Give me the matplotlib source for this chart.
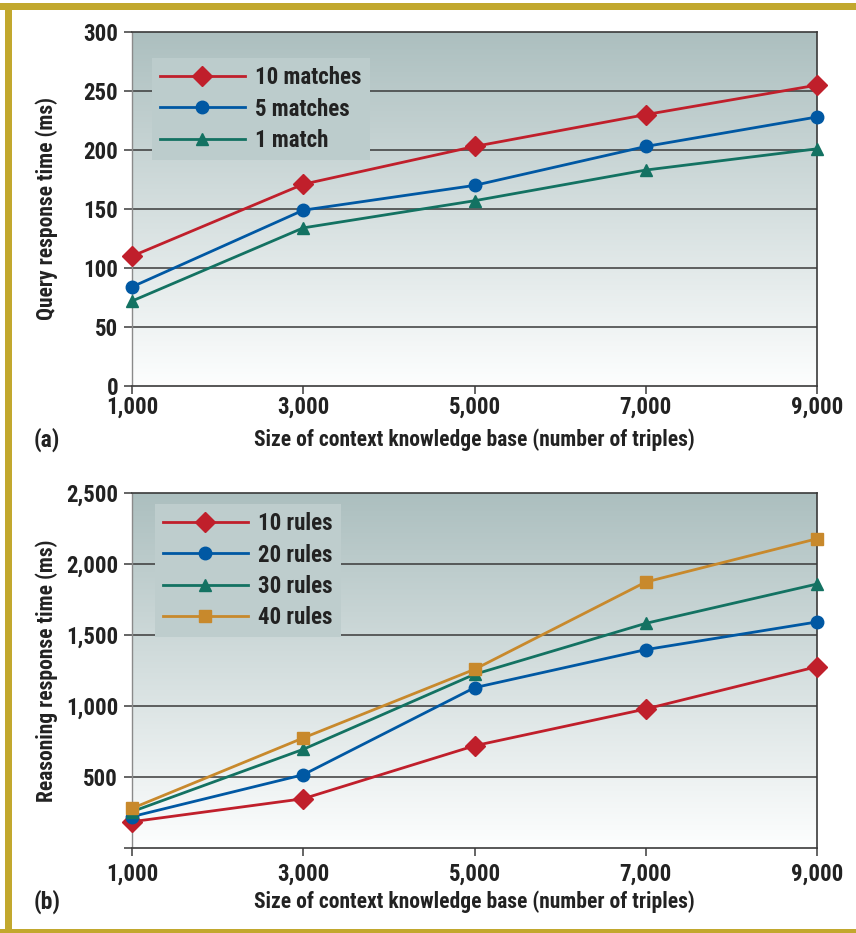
import numpy as np
import matplotlib
matplotlib.use("Agg")
import matplotlib.pyplot as plt
from matplotlib.patches import Rectangle

plt.rcParams['font.family'] = ['Roboto Condensed', 'DejaVu Sans']
plt.rcParams['font.weight'] = 'bold'

# ---------------- data ----------------
x_sizes = [1000, 3000, 5000, 7000, 9000]
x_ticklabels = ["1,000", "3,000", "5,000", "7,000", "9,000"]

match_labels = ["10 matches", "5 matches", "1 match"]
query_10 = [110, 171, 203, 230, 255]
query_5 = [84, 149, 170, 203, 228]
query_1 = [72, 134, 157, 183, 201]
query_yticks = [0, 50, 100, 150, 200, 250, 300]
query_yticklabels = ["0", "50", "100", "150", "200", "250", "300"]

rule_labels = ["10 rules", "20 rules", "30 rules", "40 rules"]
reason_10 = [185, 347, 720, 979, 1277]
reason_20 = [221, 516, 1129, 1397, 1592]
reason_30 = [256, 695, 1223, 1582, 1859]
reason_40 = [279, 775, 1258, 1873, 2178]
reason_yticks = [0, 500, 1000, 1500, 2000, 2500]
reason_yticklabels = ["", "500", "1,000", "1,500", "2,000", "2,500"]

# ---------------- style ----------------
RED = "#c01f2b"
BLUE = "#0058a3"
TEAL = "#137262"
GOLD = "#c8892c"
TXT = "#222222"
GRID = "#3a3a3a"
TOPC = np.array([0xac, 0xbf, 0xbf]) / 255.0
BOTC = np.array([0xfd, 0xfe, 0xfe]) / 255.0
FS_TICK = 16.5
FS_LAB = 15.5

fig = plt.figure(figsize=(8.56, 9.33), dpi=100)
W, H = 856.0, 933.0

# gold frame
gold = "#c2a82e"
fig.patches.append(Rectangle((0, 1 - 10 / H), 1, 7 / H, transform=fig.transFigure,
                             facecolor=gold, edgecolor="none", zorder=0))
fig.patches.append(Rectangle((5 / W, 0), 7 / W, 1 - 3 / H, transform=fig.transFigure,
                             facecolor=gold, edgecolor="none", zorder=0))
fig.patches.append(Rectangle((0, 0), 1, 4 / H, transform=fig.transFigure,
                             facecolor=gold, edgecolor="none", zorder=0))


def grad_color(frac_from_top):
    return tuple(TOPC + (BOTC - TOPC) * frac_from_top)


def make_axes(top_px, bot_px):
    left, right = 132, 817
    ax = fig.add_axes([left / W, 1 - bot_px / H, (right - left) / W, (bot_px - top_px) / H])
    ax.set_facecolor("none")
    n = 256
    grad = np.zeros((n, 2, 3))
    for i in range(n):
        grad[i, :, :] = grad_color(i / (n - 1))
    ax.imshow(grad, extent=[0, 1, 0, 1], transform=ax.transAxes, aspect="auto",
              zorder=0, interpolation="bilinear")
    return ax


def style_axes(ax, yticks, yticklabels, ymax, xpad):
    ax.set_xlim(1000, 9000)
    ax.set_ylim(0, ymax)
    ax.set_xticks(x_sizes)
    ax.set_xticklabels(x_ticklabels)
    ax.set_yticks(yticks)
    ax.set_yticklabels(yticklabels)
    for yv in yticks[1:-1]:
        ax.axhline(yv, color=GRID, lw=1.1, zorder=1)
    ax.tick_params(axis="y", length=6, width=1.1, color=GRID, pad=4,
                   labelsize=FS_TICK, labelcolor=TXT)
    ax.tick_params(axis="x", length=5.5, width=1.1, color=GRID, pad=xpad,
                   labelsize=FS_TICK, labelcolor=TXT)
    ax.spines["left"].set_color("#8a8a8a")
    ax.spines["left"].set_linewidth(1.0)
    for s in ["top", "right", "bottom"]:
        ax.spines[s].set_color(GRID)
        ax.spines[s].set_linewidth(1.2)
    for lab in ax.get_xticklabels() + ax.get_yticklabels():
        lab.set_fontweight("bold")


def legend(ax, bbox, frac):
    leg = ax.legend(loc="upper left", bbox_to_anchor=bbox,
                    handlelength=3.7, handletextpad=0.45, labelspacing=0.37,
                    borderpad=0.35, borderaxespad=0, frameon=True, fancybox=False,
                    prop={"weight": "bold", "size": FS_TICK, "family": ["Roboto Condensed", "DejaVu Sans"]})
    fr = leg.get_frame()
    fr.set_facecolor(grad_color(frac))
    fr.set_edgecolor("none")
    fr.set_alpha(1)
    leg.set_zorder(2)
    for t in leg.get_texts():
        t.set_color(TXT)
    return leg


# ---------------- panel (a) ----------------
ax1 = make_axes(32, 386)
ax1.plot(x_sizes, query_10, color=RED, lw=2.0, marker="D", ms=10, label=match_labels[0],
         zorder=4, clip_on=False)
ax1.plot(x_sizes, query_5, color=BLUE, lw=2.0, marker="o", ms=9, label=match_labels[1],
         zorder=4, clip_on=False)
ax1.plot(x_sizes, query_1, color=TEAL, lw=2.0, marker="^", ms=8.5, label=match_labels[2],
         zorder=4, clip_on=False)
style_axes(ax1, query_yticks, query_yticklabels, 300, 1.5)
ax1.set_ylabel("Query response time (ms)", fontsize=FS_LAB, fontweight="bold", color=TXT)
ax1.yaxis.label.set_va("center")
ax1.yaxis.set_label_coords((47 - 132) / 685.0, 0.5)
ax1.set_xlabel("Size of context knowledge base (number of triples)", fontsize=FS_LAB,
               fontweight="bold", color=TXT)
ax1.xaxis.label.set_va("center")
ax1.xaxis.set_label_coords(0.5, (386 - 440) / 354.0)
legend(ax1, ((152 - 132) / 685.0, (386 - 58) / 354.0), 0.2)
fig.text(34 / W, 1 - 440 / H, "(a)", fontsize=17, fontweight="bold", color=TXT,
         ha="left", va="center")

# ---------------- panel (b) ----------------
ax2 = make_axes(493, 848)
ax2.plot(x_sizes, reason_10, color=RED, lw=2.0, marker="D", ms=10, label=rule_labels[0],
         zorder=4, clip_on=False)
ax2.plot(x_sizes, reason_20, color=BLUE, lw=2.0, marker="o", ms=9, label=rule_labels[1],
         zorder=4, clip_on=False)
ax2.plot(x_sizes, reason_30, color=TEAL, lw=2.0, marker="^", ms=8.5, label=rule_labels[2],
         zorder=4, clip_on=False)
ax2.plot(x_sizes, reason_40, color=GOLD, lw=2.0, marker="s", ms=8.5, label=rule_labels[3],
         zorder=4, clip_on=False)
style_axes(ax2, reason_yticks, reason_yticklabels, 2500, 5)
ax2.set_ylabel("Reasoning response time (ms)", fontsize=FS_LAB, fontweight="bold", color=TXT)
ax2.yaxis.label.set_va("center")
ax2.yaxis.set_label_coords((47 - 132) / 685.0, 0.5)
ax2.set_xlabel("Size of context knowledge base (number of triples)", fontsize=FS_LAB,
               fontweight="bold", color=TXT)
ax2.xaxis.label.set_va("center")
ax2.xaxis.set_label_coords(0.5, (848 - 902) / 355.0)
legend(ax2, ((155 - 132) / 685.0, (848 - 504) / 355.0), 0.22)
fig.text(34 / W, 1 - 902 / H, "(b)", fontsize=17, fontweight="bold", color=TXT,
         ha="left", va="center")

fig.savefig("out.png", dpi=100)
